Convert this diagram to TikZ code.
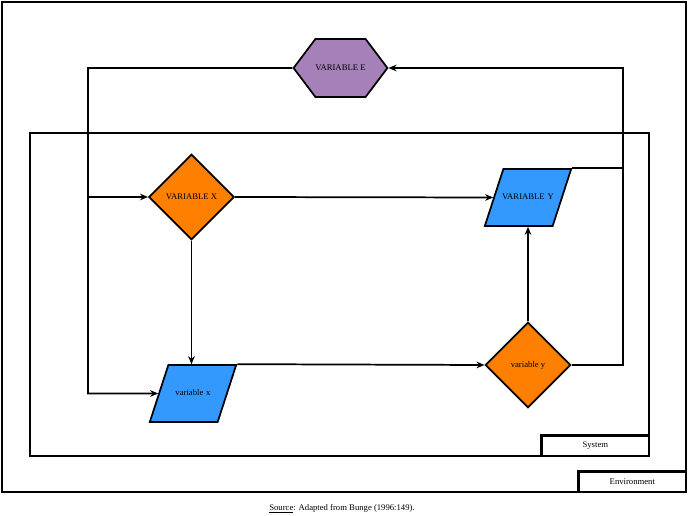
\documentclass[tikz,border=0pt]{standalone}
\usepackage{fontspec}
\setmainfont{Liberation Serif}
\usetikzlibrary{shapes.geometric, shapes.symbols, arrows.meta, positioning, calc}
\definecolor{DecOrange}{RGB}{255, 128, 0}
\definecolor{IoBlue}{RGB}{51, 153, 255}
\definecolor{EnvPurple}{RGB}{166, 128, 184}
\newcommand{\iolabel}[1]{\makebox[0pt]{#1}}
\tikzset{
  frame/.style={rectangle, draw=black, line width=2.2pt, outer sep=0pt,
    inner sep=0pt},
  tag/.style={rectangle, draw=black, line width=2.2pt, outer sep=0pt,
    inner sep=0pt, minimum width=80.5pt, minimum height=15.5pt,
    font=\fontsize{6.5}{7.5}\selectfont},
  dec/.style={diamond, aspect=1, minimum size=64pt, inner sep=0pt,
    draw=black, line width=1.3pt, fill=DecOrange,
    font=\fontsize{6.5}{7.5}\selectfont},
  io/.style={trapezium, trapezium left angle=72, trapezium right angle=108,
    text width=37pt, align=center, text height=5pt, text depth=1.5pt,
    inner xsep=0pt, inner ysep=18.1pt,
    draw=black, line width=1.3pt, fill=IoBlue,
    font=\fontsize{6.5}{7.5}\selectfont},
  hexa/.style={signal, signal to=west and east, signal pointer angle=106,
    minimum width=65pt, minimum height=43.5pt, inner sep=0pt,
    draw=black, line width=1.3pt, fill=EnvPurple,
    font=\fontsize{6.5}{7.5}\selectfont},
  arr/.style={-{Stealth[length=6pt, width=5pt]}, line width=1.3pt},
  wire/.style={line width=1.3pt},
}

\begin{document}
\begin{tikzpicture}[x=0.75pt, y=-0.75pt]
  \useasboundingbox (0,0) rectangle (688,516);
  % frames
  \node[frame, minimum width=513pt, minimum height=367.5pt] (env) at (344,247) {};
  \node[tag, anchor=south east] (envtag) at (env.south east) {Environment};
  \node[frame, minimum width=464.25pt, minimum height=242.25pt] (sys) at (339.5,294.5) {};
  \node[tag, anchor=south east] (systag) at (sys.south east) {System};
  % variables
  \node[hexa] (varE) at (340.5,68) {VARIABLE E};
  \node[dec] (varX) at (191.5,197) {VARIABLE X};
  \node[io] (varY) at (528,197.5) {\iolabel{VARIABLE Y}};
  \node[io] (smallx) at (193,393.5) {\iolabel{variable x}};
  \node[dec] (smally) at (528,365) {variable y};
  \coordinate (lbus) at (88,393.5);
  \coordinate (rtop) at (623,68);
  % connectors
  \draw[arr] (varE.west) -| (lbus) -- (smallx.west);
  \draw[arr] (lbus |- varX.west) -- (varX.west);
  \draw[arr] (varX.east) -- (varY.west);
  \draw[arr] (varX.south) -- (varX.south |- smallx.north);
  \draw[arr] (smallx.top right corner) -- (smally.west);
  \draw[arr] (smally.north) -- (varY.south);
  \draw[arr] (smally.east) -| (rtop) -- (varE.east);
  \draw[wire] (varY.top right corner) -- (varY.top right corner -| rtop);
  % source
  \node[font=\fontsize{6.5}{8}\selectfont] (src) at (342,509)
    {\underline{Source}: Adapted from Bunge (1996:149).};
\end{tikzpicture}
\end{document}
